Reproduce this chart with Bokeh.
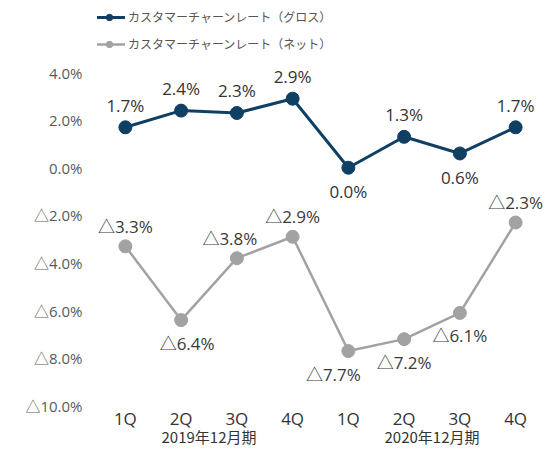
from bokeh.plotting import figure
from bokeh.models import (ColumnDataSource, Range1d, FixedTicker,
                          Legend, LegendItem, LinearAxis)
from bokeh.core.properties import value
from bokeh.embed import file_html
from bokeh.resources import INLINE

# ---- data ----
periods = ["2019年12月期", "2020年12月期"]
quarters = ["1Q", "2Q", "3Q", "4Q"]
gross = [1.7, 2.4, 2.3, 2.9, 0.0, 1.3, 0.6, 1.7]
net = [-3.3, -6.4, -3.8, -2.9, -7.7, -7.2, -6.1, -2.3]
gross_name = "カスタマーチャーンレート（グロス）"
net_name = "カスタマーチャーンレート（ネット）"
y_ticks = [-10, -8, -6, -4, -2, 0, 2, 4]

# ---- styling (label placement) ----
gross_pos = ["above", "above", "above", "above", "below", "above", "below", "above"]
net_pos = ["above", "below", "above", "above", "below", "below", "below", "above"]
net_dx = [0, 6, -7, 0, -15, 0, 0, 0]

quarter_labels = [q for _ in periods for q in quarters]
xs = list(range(len(quarter_labels)))
nq = len(quarters)
group_centers = [g * nq + (nq - 1) / 2 for g in range(len(periods))]


def fmt(v):
    return ("△" if v < 0 else "") + f"{abs(v):.1f}%"


FONT = "'Open Sans', 'Noto Sans CJK JP'"
JP = "Noto Sans CJK JP"
NAVY = "#0f3f63"
GREY = "#a2a2a2"

p = figure(x_range=Range1d(-0.5, len(xs) - 0.5),
           y_range=Range1d(-10.03, 6.69),
           width=550, height=455, output_backend="svg", toolbar_location=None,
           min_border_left=97, min_border_right=7, min_border_top=8, min_border_bottom=49)
p.outline_line_color = None
p.xgrid.visible = False
p.ygrid.visible = False

src_g = ColumnDataSource(dict(x=xs, y=gross, t=[fmt(v) for v in gross],
                              dy=[-22 if s == "above" else 24 for s in gross_pos]))
src_n = ColumnDataSource(dict(x=xs, y=net, t=[fmt(v) for v in net],
                              dx=net_dx,
                              dy=[-20 if s == "above" else 23 for s in net_pos]))

lg = p.line("x", "y", source=src_g, line_color=NAVY, line_width=3)
sg = p.scatter("x", "y", source=src_g, size=13, fill_color=NAVY, line_color=NAVY)
ln = p.line("x", "y", source=src_n, line_color=GREY, line_width=2.5)
sn = p.scatter("x", "y", source=src_n, size=13, fill_color=GREY, line_color=GREY)

p.text("x", "y", text="t", source=src_g, y_offset="dy", text_align="center",
       text_baseline="middle", text_font=value(FONT), text_font_size="17px", text_color="#333333")
p.text("x", "y", text="t", source=src_n, x_offset="dx", y_offset="dy", text_align="center",
       text_baseline="middle", text_font=value(FONT), text_font_size="17px", text_color="#3a3a3a")

legend = Legend(items=[LegendItem(label=gross_name, renderers=[lg, sg]),
                       LegendItem(label=net_name, renderers=[ln, sn])],
                location=(-4, 354), orientation="vertical",
                background_fill_alpha=0, border_line_alpha=0,
                padding=0, margin=0, glyph_width=32, glyph_height=16,
                label_height=16, spacing=10, label_standoff=3,
                label_text_font=JP, label_text_font_size="12px", label_text_color="#555555")
p.add_layout(legend, "center")

# y axis
p.yaxis.ticker = FixedTicker(ticks=y_ticks)
p.yaxis.major_label_overrides = {t: fmt(t) for t in y_ticks}
p.yaxis.axis_line_color = None
p.yaxis.major_tick_line_color = None
p.yaxis.minor_tick_line_color = None
p.yaxis.major_tick_out = 0
p.yaxis.major_label_standoff = 15
p.yaxis.major_label_text_font = FONT
p.yaxis.major_label_text_font_size = "15px"
p.yaxis.major_label_text_color = "#5a5a5a"

# x axis (quarters)
xa = p.xaxis[0]
xa.ticker = FixedTicker(ticks=xs)
xa.major_label_overrides = {i: q for i, q in zip(xs, quarter_labels)}
xa.axis_line_color = None
xa.major_tick_line_color = None
xa.minor_tick_line_color = None
xa.major_tick_out = 0
xa.major_label_standoff = 0
xa.major_label_text_font = FONT
xa.major_label_text_font_size = "17px"
xa.major_label_text_color = "#333333"

# second x axis (fiscal periods)
ga = LinearAxis(ticker=FixedTicker(ticks=group_centers))
ga.major_label_overrides = {c: name for c, name in zip(group_centers, periods)}
ga.axis_line_color = None
ga.major_tick_line_color = None
ga.minor_tick_line_color = None
ga.major_tick_out = 0
ga.major_label_standoff = -7
ga.major_label_text_font = JP
ga.major_label_text_font_size = "15px"
ga.major_label_text_color = "#333333"
p.add_layout(ga, "below")

open("out.html", "w").write(file_html(p, INLINE))
